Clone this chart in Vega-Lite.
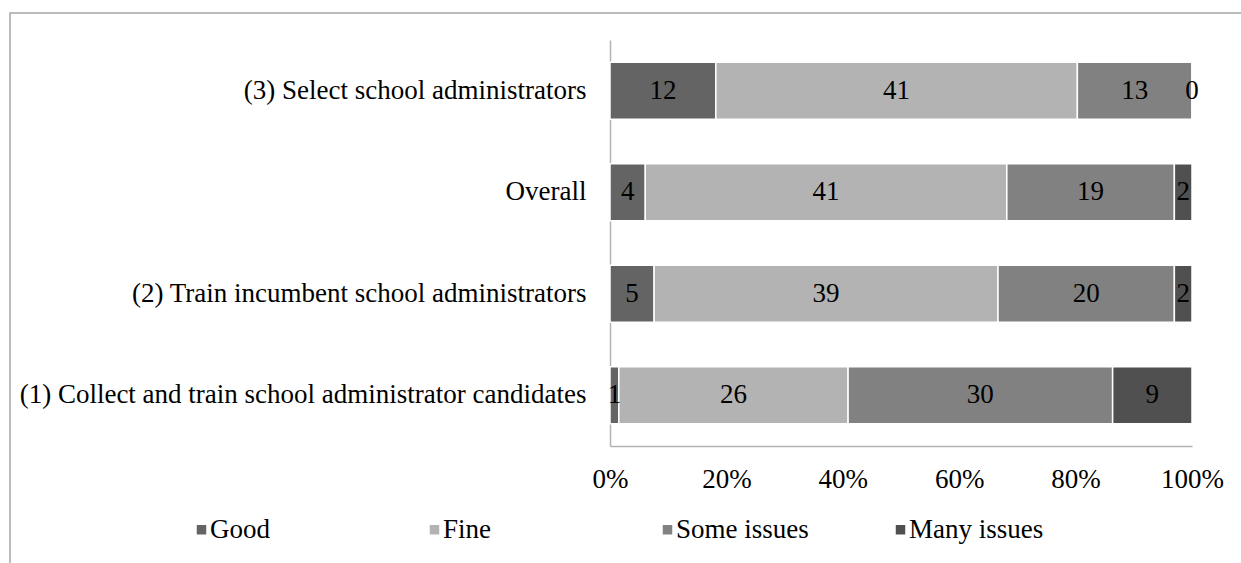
{
  "$schema": "https://vega.github.io/schema/vega-lite/v6.json",
  "autosize": {"type": "none"},
  "padding": {"left": 10, "top": 13, "right": 0, "bottom": 0},
  "width": 1241,
  "height": 560,
  "background": "white",
  "config": {
    "font": "Liberation Serif",
    "view": {"stroke": "#a6a6a6", "strokeWidth": 1.5},
    "axis": {"labelFont": "Liberation Serif", "labelFontSize": 27, "labelColor": "black", "grid": false, "ticks": false, "domainColor": "#b3b3b3", "domainWidth": 1.5, "title": null},
    "legend": {"labelFont": "Liberation Serif", "labelFontSize": 27, "labelColor": "black"}
  },
  "data": {
    "values": [
      {"task": "(3) Select school administrators", "rating": "Good", "value": 12},
      {"task": "(3) Select school administrators", "rating": "Fine", "value": 41},
      {"task": "(3) Select school administrators", "rating": "Some issues", "value": 13},
      {"task": "(3) Select school administrators", "rating": "Many issues", "value": 0},
      {"task": "Overall", "rating": "Good", "value": 4},
      {"task": "Overall", "rating": "Fine", "value": 41},
      {"task": "Overall", "rating": "Some issues", "value": 19},
      {"task": "Overall", "rating": "Many issues", "value": 2},
      {"task": "(2) Train incumbent school administrators", "rating": "Good", "value": 5},
      {"task": "(2) Train incumbent school administrators", "rating": "Fine", "value": 39},
      {"task": "(2) Train incumbent school administrators", "rating": "Some issues", "value": 20},
      {"task": "(2) Train incumbent school administrators", "rating": "Many issues", "value": 2},
      {"task": "(1) Collect and train school administrator candidates", "rating": "Good", "value": 1},
      {"task": "(1) Collect and train school administrator candidates", "rating": "Fine", "value": 26},
      {"task": "(1) Collect and train school administrator candidates", "rating": "Some issues", "value": 30},
      {"task": "(1) Collect and train school administrator candidates", "rating": "Many issues", "value": 9}
    ]
  },
  "transform": [
    {"calculate": "indexof(['Good','Fine','Some issues','Many issues'], datum.rating)", "as": "k"},
    {"stack": "value", "groupby": ["task"], "sort": [{"field": "k", "order": "ascending"}], "offset": "normalize", "as": ["x0", "x1"]},
    {"calculate": "(datum.x0 + datum.x1) / 2", "as": "xm"}
  ],
  "encoding": {
    "y": {
      "field": "task",
      "type": "nominal",
      "sort": ["(3) Select school administrators", "Overall", "(2) Train incumbent school administrators", "(1) Collect and train school administrator candidates"],
      "scale": {"range": [27, 433], "paddingInner": 0.436, "paddingOuter": 0.218},
      "axis": {"orient": "left", "offset": -600, "labelPadding": 24, "labelLimit": 700}
    }
  },
  "layer": [
    {
      "mark": {"type": "bar", "stroke": "white", "strokeWidth": 1.5},
      "encoding": {
        "x": {
          "field": "x0",
          "type": "quantitative",
          "scale": {"domain": [0, 1], "range": [600, 1182], "nice": false},
          "axis": {"orient": "bottom", "offset": -127, "values": [0, 0.2, 0.4, 0.6, 0.8, 1], "format": ".0%", "labelPadding": 20, "labelFlush": false}
        },
        "x2": {"field": "x1"},
        "color": {
          "field": "rating",
          "type": "nominal",
          "scale": {"domain": ["Good", "Fine", "Some issues", "Many issues"], "range": ["#646464", "#b3b3b3", "#818181", "#505050"]},
          "legend": {
            "title": null,
            "orient": "none",
            "legendX": 178,
            "legendY": 503,
            "direction": "horizontal",
            "columns": 4,
            "gridAlign": "all",
            "columnPadding": 76,
            "symbolType": "square",
            "symbolSize": 90,
            "symbolStrokeWidth": 0,
            "labelOffset": -5,
            "padding": 0
          }
        }
      }
    },
    {
      "mark": {"type": "text", "font": "Liberation Serif", "fontSize": 27, "color": "black", "align": "center", "baseline": "middle"},
      "encoding": {
        "x": {"field": "xm", "type": "quantitative"},
        "text": {"field": "value", "type": "quantitative"}
      }
    }
  ]
}
